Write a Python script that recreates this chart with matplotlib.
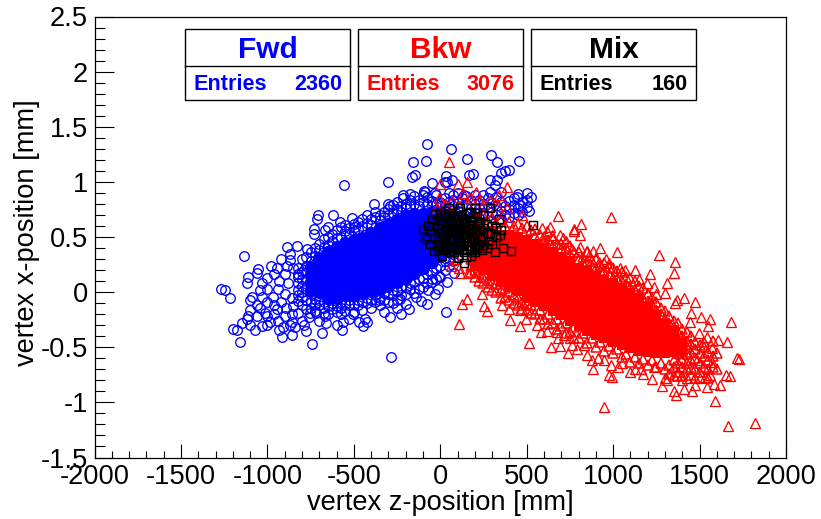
import matplotlib
matplotlib.use("Agg")
import matplotlib.pyplot as plt
from matplotlib.patches import Rectangle
from matplotlib.ticker import MultipleLocator

plt.rcParams['font.family'] = ['Liberation Sans', 'DejaVu Sans']

# --- data: (z [mm], x [mm]) ---
fwd_points = [
(-78,1.34),(61,1.30),(-82,1.19),(-157,1.18),(154,1.21),(-147,1.06),(-163,1.04),(-300,1.00),(-558,0.97),(-49,0.99),
(38,1.00),(34,1.05),(-213,0.88),(-217,0.85),(-174,0.89),(-91,0.91),(-382,0.80),(-300,0.80),(-290,0.78),(-705,0.70),
(-714,0.66),(-622,0.70),(-579,0.64),(-512,0.67),(-492,0.59),(-647,0.59),(-666,0.56),(-730,0.57),(-733,0.53),(-888,0.41),
(-826,0.42),(-869,0.35),(-1135,0.33),(-772,0.39),(-1052,0.21),(-1114,0.14),(-1116,0.08),(-1058,0.17),(-981,0.24),(-942,0.22),
(-884,0.24),(-1268,0.03),(-1245,0.02),(-1216,-0.05),(-1090,-0.04),(-1100,-0.07),(-1033,0.08),(-1004,-0.09),(-1100,-0.16),(-1110,-0.22),
(-1148,-0.28),(-1200,-0.33),(-1177,-0.34),(-1158,-0.45),(-1119,-0.24),(-1100,-0.30),(-1071,-0.34),(-1029,-0.31),(-984,-0.27),(-1013,-0.19),
(-940,-0.26),(-907,-0.32),(-917,-0.41),(-859,-0.39),(-776,-0.35),(-685,-0.37),(-743,-0.47),(-284,-0.59),(-566,-0.34),(-564,-0.27),
(-444,-0.31),(-425,-0.27),(-435,-0.24),(-323,-0.18),(-288,-0.23),(-228,-0.20),(-178,-0.15),(-78,-0.11),(31,-0.18),(-271,-0.10),
(-232,-0.06),(-140,-0.04),(-14,0.03),(-68,0.02),(38,0.09),(-357,-0.07),(-502,-0.20),(-666,-0.22),(-753,-0.19),(-859,-0.27),
(-946,-0.15),(293,1.24),(331,1.18),(457,1.19),(395,1.11),(376,1.10),(352,1.08),(192,1.07),(169,1.06),(289,1.02),
(331,1.02),(67,1.02),(29,1.00),(501,0.90),(526,0.86),(447,0.89),(443,0.86),(511,0.74),(462,0.79),(424,0.79),
(289,0.91),(318,0.97),(352,0.91),(-94,0.92),(-30,0.90),(75,0.88),(135,0.88),(77,0.17),(-49,0.12),(-10,0.15),
(-1000,0.13),(-960,0.16),(-930,0.10),(-900,0.16),(-880,0.08),(-850,0.22),(-1040,0.02),(-1000,0.03),(-970,-0.04),(-940,0.03),
(-900,-0.02),(-860,-0.05),(-1060,-0.12),(-1030,-0.04),(-960,-0.12),(-920,-0.09),(-890,-0.14),(-850,-0.13),(-820,-0.08),(-820,0.14),
(-790,0.20),(-870,0.29),(-920,0.30),(-1000,-0.22),(-960,-0.20),(-900,-0.22),(-860,-0.20),(-820,-0.19),(-800,-0.26),(-760,-0.23),
(-720,-0.19),(-1060,-0.22),(-1040,-0.14),(-840,-0.32),(-870,-0.30),(-930,-0.34),(-1000,-0.30),(-790,-0.30),
(-700,-0.26),(-660,-0.28),(-600,-0.30),(-530,-0.24),(-470,-0.27),(-250,-0.14),(-200,-0.11),(-110,-0.08),(-30,-0.02),
]

# rings crowding the edges of the forward cloud, as (z, x values at that z)
fwd_fringe = [
(-825,[0.22,0.08,0.02,-0.03,0.16]),(-800,[0.30,0.12,0.06,0.00,-0.04,-0.12,0.18]),(-775,[0.32,0.24,0.10,0.03,-0.07,-0.15,0.17]),
(-750,[0.36,0.28,-0.09,-0.02,-0.14]),(-725,[0.40,0.33,-0.11,-0.17,-0.06]),(-700,[0.44,0.38,-0.12,-0.07]),(-675,[0.48,0.41,-0.14,-0.19,-0.09]),
(-650,[0.50,0.43,-0.13,-0.20]),(-625,[0.53,0.46,-0.15,-0.10]),(-600,[0.56,0.49,-0.13,-0.18]),(-575,[0.59,0.50,-0.14,-0.20,-0.09]),
(-550,[0.55,0.61,-0.11,-0.17]),(-525,[0.58,0.52,-0.12,-0.07]),(-500,[0.62,0.55,-0.11,-0.18]),(-475,[0.64,0.57,-0.12,-0.07]),
(-450,[0.60,0.66,-0.09,-0.16]),(-425,[0.63,0.70,-0.10,-0.05]),(-400,[0.66,0.61,-0.07,-0.14]),(-375,[0.68,0.73,-0.09,-0.03]),
(-350,[0.70,0.65,-0.05,-0.12]),(-325,[0.73,0.68,-0.07,-0.01]),(-300,[0.75,0.70,-0.02,-0.09]),(-275,[0.72,0.79,-0.03,0.02]),
(-250,[0.75,0.82,0.01,-0.07]),(-225,[0.78,0.73,-0.03,0.04]),(-200,[0.80,0.76,0.05,-0.02]),(-175,[0.78,0.84,0.03,0.08]),
(-150,[0.80,0.87,0.09,-0.01]),(-125,[0.78,0.84,0.03,0.12]),(-100,[0.82,0.88,0.13,0.05]),(-75,[0.80,0.86,0.08,0.16]),
(-50,[0.83,0.78,0.18,0.09]),(-25,[0.80,0.88,0.12,0.22]),(0,[0.82,0.78,0.24,0.14]),(25,[0.85,0.79,0.20,0.28]),
(50,[0.76,0.82,0.90,0.24,0.30]),(75,[0.78,0.84,0.28,0.35]),(100,[0.74,0.81,0.90,0.32]),(125,[0.78,0.85,0.69]),
(150,[0.72,0.80,0.87,0.64]),(175,[0.76,0.84,0.68]),(200,[0.72,0.80,0.88]),(225,[0.76,0.84,0.67]),(250,[0.72,0.80,0.88]),
(275,[0.69,0.77,0.85]),(300,[0.73,0.81]),(325,[0.70,0.78,0.86]),(350,[0.74,0.82,0.66]),(375,[0.70,0.78]),
(400,[0.75,0.83,0.68]),(425,[0.72,0.85]),(450,[0.76,0.70]),(475,[0.73,0.82]),(500,[0.77,0.84]),
]

# dense middle of the forward cloud
fwd_core = [
(-750,[0.02,0.09,0.16,0.23]),
(-700,[0.00,0.07,0.14,0.21,0.28,0.31]),
(-650,[-0.05,0.02,0.09,0.16,0.23,0.30,0.36]),
(-600,[-0.05,0.02,0.09,0.16,0.23,0.30,0.37,0.41]),
(-550,[-0.03,0.04,0.11,0.18,0.25,0.32,0.39,0.45]),
(-500,[-0.03,0.04,0.11,0.18,0.25,0.32,0.39,0.47]),
(-450,[-0.01,0.06,0.13,0.20,0.27,0.34,0.41,0.49]),
(-400,[0.01,0.08,0.15,0.22,0.29,0.36,0.43,0.50,0.54]),
(-350,[0.03,0.10,0.17,0.24,0.31,0.38,0.45,0.52,0.58]),
(-300,[0.06,0.13,0.20,0.27,0.34,0.41,0.48,0.55,0.62]),
(-250,[0.09,0.16,0.23,0.30,0.37,0.44,0.51,0.58,0.65]),
(-200,[0.13,0.20,0.27,0.34,0.41,0.48,0.55,0.62,0.69]),
(-150,[0.17,0.24,0.31,0.38,0.45,0.52,0.59,0.66,0.71]),
(-100,[0.22,0.29,0.36,0.43,0.50,0.57,0.64,0.71]),
(-50,[0.27,0.34,0.41,0.48,0.55,0.62,0.69,0.73]),
(0,[0.33,0.40,0.47,0.54,0.61,0.68,0.72]),
(50,[0.37,0.44,0.51,0.58,0.65,0.70]),
(100,[0.41,0.48,0.55,0.62,0.68]),
]

bkw_points = [
(48,1.18),(-1,0.985),(105,0.985),(154,1.00),(208,0.91),(389,0.955),(-10,0.855),(337,0.88),(227,0.835),(154,0.81),
(389,0.765),(472,0.70),(680,0.69),(985,0.68),(812,0.62),(775,0.57),(771,0.55),(808,0.52),(588,0.58),(632,0.59),
(711,0.49),(646,0.52),(925,0.40),(1024,0.36),(810,0.41),(761,0.39),(848,0.37),(881,0.37),(1267,0.34),(1357,0.275),
(1354,0.175),(1311,0.087),(1211,0.166),(1128,0.20),(1041,0.215),(974,0.26),(916,0.275),(1195,0.08),(1234,0.05),(1298,-0.01),
(1408,-0.05),(1369,-0.07),(1359,-0.10),(1471,-0.09),(1452,-0.19),(1508,-0.23),(1558,-0.24),(1547,-0.31),(1680,-0.275),(1606,-0.43),
(1660,-0.45),(1716,-0.60),(1726,-0.605),(1678,-0.76),(1654,-0.75),(1620,-0.84),(1589,-0.99),(1822,-1.19),(1662,-1.21),(948,-1.04),
(1363,-0.93),(1350,-0.90),(1408,-0.88),(1458,-0.895),(1282,-0.85),(1224,-0.79),(993,-0.77),(974,-0.75),(881,-0.70),(738,-0.55),
(640,-0.50),(690,-0.49),(512,-0.46),(582,-0.36),(459,-0.31),(401,-0.25),(273,-0.17),(254,-0.13),(240,-0.02),(125,-0.11),
(154,-0.06),(109,-0.29),(115,0.17),(163,0.175),(497,-0.245),(462,-0.16),(356,-0.12),(395,-0.15),(945,-0.62),(1051,-0.64),
(1128,-0.70),(1234,-0.68),(1311,-0.80),(1369,-0.75),(1485,-0.62),(1573,-0.63),(1562,-0.75),(1533,-0.77),(1581,-0.83),(1543,-0.86),
(1475,-0.84),(1427,-0.78),(877,-0.62),(829,-0.48),(752,-0.42),(713,-0.39),(675,-0.36),(1543,-0.41),(1494,-0.375),(1572,-0.51),
(1446,-0.27),(1170,-0.74),(1100,-0.72),(1400,-0.80),(1500,-0.78),(1300,-0.78),
(-20,0.76),(30,0.80),(70,0.84),(110,0.78),(130,0.90),(170,0.85),(250,0.80),(290,0.84),(330,0.78),(60,0.72),(90,0.30),(60,0.24),(110,0.22),
(560,-0.30),(620,-0.35),(680,-0.42),(760,-0.48),(790,-0.52),(850,-0.57),(910,-0.60),(990,-0.66),(1030,-0.68),(1160,-0.70),
(620,0.55),(690,0.52),(730,0.46),(860,0.34),(960,0.30),(1070,0.20),(1150,0.12),(1250,-0.02),
]

# triangles crowding the edges of the backward cloud
bkw_fringe = [
(175,[0.18,0.24,0.30,0.62]),(200,[0.14,0.68,0.20]),(225,[0.10,0.66,0.17]),(250,[0.08,0.70,0.14]),(275,[0.05,0.64,0.11]),(300,[0.02,0.67,0.08]),
(325,[0.00,0.63,0.07]),(350,[-0.05,0.66,0.02]),(375,[-0.04,0.60,0.04]),(400,[-0.07,0.64,0.00]),(425,[-0.03,0.60,-0.10]),(450,[-0.12,0.62,-0.05]),
(475,[-0.09,0.58,-0.15]),(500,[-0.16,0.60,-0.11]),(525,[-0.12,0.56,-0.19]),(550,[-0.20,0.57,0.51]),(575,[-0.16,0.52,-0.24]),(600,[-0.24,0.50,0.46]),
(625,[-0.20,0.47,-0.29]),(650,[-0.28,0.48,0.42]),(675,[-0.24,0.44,-0.33]),(700,[-0.31,0.44,0.39]),(725,[-0.28,0.40,-0.37]),(750,[-0.36,0.42,0.35]),
(775,[-0.32,0.36,-0.42]),(800,[-0.42,0.36,0.30]),(825,[-0.37,0.32,0.26]),(850,[-0.46,0.36,0.28]),(875,[-0.42,0.28,0.24]),(900,[-0.50,0.30,0.22]),
(925,[-0.45,0.25,0.20]),(950,[-0.53,0.26,0.19]),(975,[-0.49,0.23,0.16]),(1000,[-0.55,0.22,0.13]),(1025,[-0.52,0.19,0.12]),(1050,[-0.59,0.18,0.10]),
(1075,[-0.56,0.14,0.07]),(1100,[-0.63,0.13,0.04]),(1125,[-0.59,0.10,0.02]),(1150,[-0.64,0.06,-0.02]),(1175,[-0.61,0.04,-0.05]),(1200,[-0.66,-0.02,-0.08]),
(1225,[-0.62,-0.05,-0.12]),(1250,[-0.68,-0.09,-0.16]),(1275,[-0.64,-0.14,-0.20]),(1300,[-0.70,-0.17,-0.24]),(1325,[-0.66,-0.22,-0.28,-0.74]),(1350,[-0.68,-0.26,-0.32,-0.76,-0.62]),
(1375,[-0.64,-0.28,-0.36,-0.72,-0.55,-0.46]),(1400,[-0.68,-0.33,-0.40,-0.76,-0.62,-0.54]),(1425,[-0.64,-0.36,-0.44,-0.70,-0.56,-0.50]),(1450,[-0.68,-0.40,-0.47,-0.75,-0.62,-0.54]),
(1475,[-0.45,-0.52,-0.60,-0.70,-0.78]),(1500,[-0.48,-0.55,-0.64,-0.72]),(1525,[-0.50,-0.58,-0.68,-0.45]),(1550,[-0.54,-0.62,-0.70,-0.78]),(1575,[-0.58,-0.68,-0.44]),(1600,[-0.55,-0.70]),
]

bkw_core = [
(200,[0.24,0.31,0.38,0.45,0.52,0.58]),
(250,[0.20,0.27,0.34,0.41,0.48,0.55]),
(300,[0.15,0.22,0.29,0.36,0.43,0.50,0.55]),
(350,[0.09,0.16,0.23,0.30,0.37,0.44,0.52]),
(400,[0.05,0.12,0.19,0.26,0.33,0.40,0.47,0.52]),
(450,[0.01,0.08,0.15,0.22,0.29,0.36,0.43,0.50]),
(500,[-0.05,0.02,0.09,0.16,0.23,0.30,0.37,0.42,0.47]),
(550,[-0.09,-0.02,0.05,0.12,0.19,0.26,0.33,0.39,0.44]),
(600,[-0.13,-0.06,0.01,0.08,0.15,0.22,0.29,0.35,0.40]),
(650,[-0.17,-0.10,-0.03,0.04,0.11,0.18,0.25,0.31,0.36]),
(700,[-0.21,-0.14,-0.07,0.00,0.07,0.14,0.21,0.27,0.32]),
(750,[-0.26,-0.19,-0.12,-0.05,0.02,0.09,0.16,0.22,0.28]),
(800,[-0.31,-0.24,-0.17,-0.10,-0.03,0.04,0.11,0.17,0.22]),
(850,[-0.35,-0.28,-0.21,-0.14,-0.07,0.00,0.07,0.13,0.19]),
(900,[-0.39,-0.32,-0.25,-0.18,-0.11,-0.04,0.03,0.09,0.15]),
(950,[-0.42,-0.35,-0.28,-0.21,-0.14,-0.07,0.00,0.06,0.11]),
(1000,[-0.45,-0.38,-0.31,-0.24,-0.17,-0.10,-0.03,0.03,0.08]),
(1050,[-0.48,-0.41,-0.34,-0.27,-0.20,-0.13,-0.06,-0.01,0.04]),
(1100,[-0.51,-0.44,-0.37,-0.30,-0.23,-0.16,-0.09,-0.05,-0.01]),
(1150,[-0.53,-0.46,-0.39,-0.32,-0.25,-0.18,-0.11,-0.05]),
(1200,[-0.54,-0.47,-0.40,-0.33,-0.26,-0.19,-0.13]),
(1250,[-0.55,-0.48,-0.41,-0.34,-0.27,-0.21]),
(1300,[-0.55,-0.48,-0.41,-0.34,-0.29]),
(1350,[-0.54,-0.47,-0.40,-0.35]),
(1400,[-0.53,-0.46]),
]

mix_points = [
(538,0.61),(-97,0.57),(-78,0.48),(-29,0.71),(53,0.76),(289,0.76),(337,0.66),(351,0.56),(346,0.52),(289,0.53),
(318,0.365),(362,0.40),(410,0.37),(250,0.43),(140,0.266),(9,0.33),(-39,0.37),(173,0.73),(116,0.76),(-20,0.65),
(-40,0.60),(-60,0.55),(-90,0.50),(-30,0.50),(-20,0.42),(0,0.72),(20,0.70),(40,0.66),(60,0.72),(80,0.68),
(100,0.74),(120,0.70),(140,0.66),(160,0.72),(190,0.68),(210,0.72),(230,0.64),(250,0.70),(270,0.62),(300,0.60),
(320,0.58),(-10,0.58),(10,0.62),(30,0.58),(50,0.62),(70,0.58),(90,0.62),(110,0.58),(130,0.62),(150,0.58),
(170,0.62),(190,0.58),(210,0.62),(230,0.56),(250,0.58),(270,0.54),(-10,0.50),(10,0.54),(30,0.50),(50,0.54),
(70,0.50),(90,0.54),(110,0.50),(130,0.54),(150,0.50),(170,0.54),(190,0.50),(210,0.52),(230,0.48),(250,0.50),
(0,0.44),(20,0.46),(40,0.42),(60,0.46),(80,0.42),(100,0.46),(120,0.42),(140,0.46),(160,0.42),(180,0.46),
(200,0.42),(220,0.44),(20,0.38),(50,0.36),(80,0.36),(110,0.38),(140,0.36),(170,0.38),(200,0.36),(150,0.32),
(180,0.33),(100,0.31),(60,0.66),(120,0.64),(180,0.64),(30,0.74),(200,0.76),(-50,0.66),(-70,0.60),(320,0.50),
(280,0.46),(300,0.44),(240,0.38),(270,0.40),(-60,0.44),(-10,0.38),
(5,0.68),(25,0.64),(45,0.70),(65,0.64),(85,0.60),(105,0.66),(125,0.60),(145,0.64),(165,0.56),(185,0.60),
(205,0.56),(225,0.60),(15,0.47),(35,0.46),(55,0.48),(75,0.47),(95,0.50),(115,0.46),(135,0.48),(155,0.46),
(175,0.42),(195,0.46),(215,0.40),(5,0.54),(25,0.52),(45,0.56),(65,0.54),(85,0.56),(105,0.52),(125,0.56),
(145,0.52),(165,0.48),(185,0.54),(-5,0.46),(35,0.40),(65,0.40),(95,0.40),(125,0.38),(155,0.38),(185,0.38),
]

titles = ["Fwd", "Bkw", "Mix"]
entries = [2360, 3076, 160]
colors = ["#0000ff", "#ff0000", "#000000"]
x_ticks = [-2000, -1500, -1000, -500, 0, 500, 1000, 1500, 2000]
y_ticks = [-1.5, -1, -0.5, 0, 0.5, 1, 1.5, 2, 2.5]

W, H = 821, 519
fig = plt.figure(figsize=(W/100, H/100), dpi=100, facecolor="white")
L, R, T, B = 94.5, 786, 16.5, 457.5
ax = fig.add_axes([L/W, 1-B/H, (R-L)/W, (B-T)/H])
ax.set_xlim(-2000, 2000)
ax.set_ylim(-1.5, 2.5)

def unzip(rows):
    zs, xs = [], []
    for z, vals in rows:
        for v in vals:
            zs.append(z); xs.append(v)
    return zs, xs

fz, fx = zip(*fwd_points)
bz, bx = zip(*bkw_points)
mz, mx = zip(*mix_points)
fcz, fcx = unzip(fwd_core)
bcz, bcx = unzip(bkw_core)
ffz, ffx = unzip(fwd_fringe)
brz, brx = unzip(bkw_fringe)

ax.plot(fz, fx, ls="none", marker="o", ms=6.9, mfc="none", mec=colors[0], mew=0.95)
ax.plot(ffz, ffx, ls="none", marker="o", ms=6.9, mfc="none", mec=colors[0], mew=0.95)
ax.plot(fcz, fcx, ls="none", marker="o", ms=9.5, mfc=colors[0], mec=colors[0], mew=0)
ax.plot(bcz, bcx, ls="none", marker="s", ms=7.0, mfc=colors[1], mec=colors[1], mew=0)
ax.plot(brz, brx, ls="none", marker="^", ms=7.4, mfc="none", mec=colors[1], mew=1.1)
ax.plot(bz, bx, ls="none", marker="^", ms=7.4, mfc="none", mec=colors[1], mew=0.95)
ax.plot(mz, mx, ls="none", marker="s", ms=6.4, mfc="none", mec=colors[2], mew=1.05)

ax.set_xticks(x_ticks)
ax.set_yticks(y_ticks)
ax.xaxis.set_minor_locator(MultipleLocator(100))
ax.yaxis.set_minor_locator(MultipleLocator(0.1))
ax.tick_params(axis="x", which="major", direction="in", length=10, width=0.8, labelbottom=False)
ax.tick_params(axis="x", which="minor", direction="in", length=5, width=0.8)
ax.tick_params(axis="y", which="major", direction="in", length=14, width=0.8, labelleft=False)
ax.tick_params(axis="y", which="minor", direction="in", length=7, width=0.8)
for s in ax.spines.values():
    s.set_linewidth(0.9)

def px_text(x, y, s, **kw):
    fig.text(x/W, 1-y/H, s, **kw)

FS = 19.6
for v in x_ticks:
    xp = L + (v+2000)/4000*(R-L)
    px_text(xp, 477, str(v), ha="center", va="center", fontsize=FS)
for v in y_ticks:
    yp = B - (v+1.5)/4*(B-T)
    px_text(88, yp+3, f"{v:g}", ha="right", va="center", fontsize=FS)
px_text(440, 503.5, "vertex z-position [mm]", ha="center", va="center", fontsize=FS)
px_text(27, 233, "vertex x-position [mm]", ha="center", va="center", rotation=90, fontsize=FS)

boxes = [(185, 350), (358, 523), (531, 696)]
for (x0, x1), t, n, c in zip(boxes, titles, entries, colors):
    fig.add_artist(Rectangle((x0/W, 1-100/H), (x1-x0)/W, 71/H, transform=fig.transFigure,
                             fc="white", ec="black", lw=1.0, zorder=5))
    fig.add_artist(plt.Line2D([x0/W, x1/W], [1-66/H, 1-66/H], transform=fig.transFigure,
                              color="black", lw=1.0, zorder=6))
    px_text((x0+x1)/2, 49.5, t, ha="center", va="center", fontsize=21.5, fontweight="bold", color=c, zorder=7)
    px_text(x0+8, 85, "Entries", ha="left", va="center", fontsize=15.6, fontweight="bold", color=c, zorder=7)
    px_text(x1-8, 85, str(n), ha="right", va="center", fontsize=15.6, fontweight="bold", color=c, zorder=7)

fig.savefig("out.png", dpi=100, facecolor="white")
